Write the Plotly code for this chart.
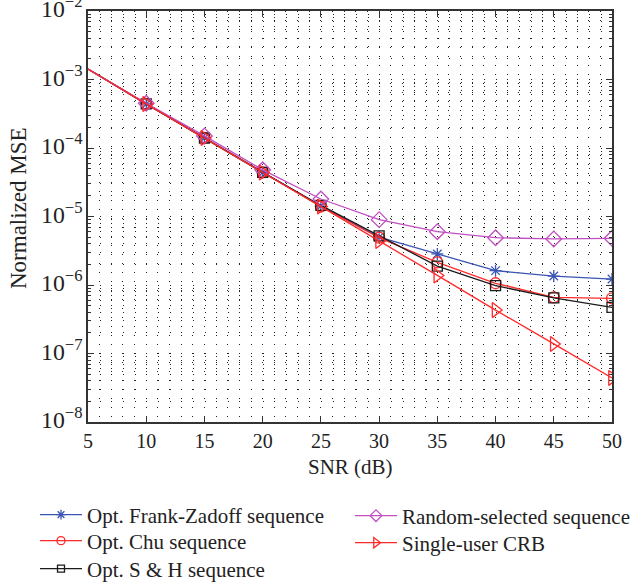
import plotly.graph_objects as go

snr = [5, 10, 15, 20, 25, 30, 35, 40, 45, 50]
fz = [1.42e-3, 4.4e-4, 1.4e-4, 4.4e-5, 1.42e-5, 5.0e-6, 2.84e-6, 1.62e-6, 1.35e-6, 1.22e-6]
chu = [1.42e-3, 4.4e-4, 1.4e-4, 4.4e-5, 1.4e-5, 4.9e-6, 2.14e-6, 1.06e-6, 6.6e-7, 6.4e-7]
sh = [1.42e-3, 4.4e-4, 1.4e-4, 4.4e-5, 1.45e-5, 5.2e-6, 1.89e-6, 9.8e-7, 6.5e-7, 4.7e-7]
rnd = [1.42e-3, 4.5e-4, 1.5e-4, 4.8e-5, 1.8e-5, 9.0e-6, 6.0e-6, 4.9e-6, 4.7e-6, 4.8e-6]
crb = [1.42e-3, 4.4e-4, 1.4e-4, 4.4e-5, 1.4e-5, 4.4e-6, 1.38e-6, 4.3e-7, 1.38e-7, 4.4e-8]

names = ["Opt. Frank-Zadoff sequence", "Opt. Chu sequence", "Opt. S & H sequence",
         "Random-selected sequence", "Single-user CRB"]
series = [fz, chu, sh, rnd, crb]
colors = ["#3a55b4", "#ff2a2a", "#1a1a1a", "#c04fc0", "#ff2a2a"]
symbols = ["asterisk-open", "circle-open", "square-open", "diamond-open", "triangle-right-open"]
sizes = [10, 11, 10, 12, 13]
leg_sizes = [8, 8, 7, 9, 9]
legend_ids = ["legend", "legend2", "legend3", "legend4", "legend5"]
# legend placement: left edge px and box centre px on the 635x588 page
leg_left = [35, 35, 35, 350, 350]
leg_mid = [515, 541, 569, 516, 543]

W, H = 635, 588
ML, MR, MT, MB = 88, 23, 11, 166
PW, PH = W - ML - MR, H - MT - MB
FONT = "Liberation Serif"
fig = go.Figure()
for name, ys, c, s, sz in zip(names, series, colors, symbols, sizes):
    fig.add_trace(go.Scatter(x=snr[:2], y=ys[:2], mode="lines", showlegend=False,
                             line=dict(color=c, width=1.3), hoverinfo="skip"))
    fig.add_trace(go.Scatter(x=snr[1:], y=ys[1:], mode="lines+markers", name=name,
                             showlegend=False,
                             line=dict(color=c, width=1.3),
                             marker=dict(symbol=s, size=sz, color=c,
                                         line=dict(color=c, width=1.3))))
for name, c, s, sz, lg in zip(names, colors, symbols, leg_sizes, legend_ids):
    fig.add_trace(go.Scatter(x=[None], y=[None], mode="lines+markers", name=name,
                             legend=lg, line=dict(color=c, width=1.3),
                             marker=dict(symbol=s, size=sz, color=c,
                                         line=dict(color=c, width=1.3))))

fig.update_xaxes(range=[5, 50], dtick=5, tick0=5, ticks="inside", ticklen=6,
                 automargin=False,
                 showline=True, linecolor="#333333", linewidth=1.5, mirror="ticks",
                 tickcolor="#333333", zeroline=False,
                 showgrid=True, gridcolor="#222222", gridwidth=1, griddash="1px,8px",
                 minor=dict(dtick=1, showgrid=True, gridcolor="#222222", gridwidth=1,
                            griddash="1px,8px"),
                 tickfont=dict(family=FONT, size=20, color="#222"))
fig.update_yaxes(type="log", range=[-8, -2], dtick=1, exponentformat="power",
                 ticks="inside", ticklen=6, tickcolor="#333333",
                 automargin=False, ticklabeloverflow="allow", ticklabelshift=-2,
                 showline=True, linecolor="#333333", linewidth=1.5, mirror="ticks",
                 zeroline=False,
                 showgrid=True, gridcolor="#222222", gridwidth=1, griddash="1px,10.65px",
                 minor=dict(ticks="inside", ticklen=3, tickcolor="#333333", showgrid=True,
                            gridcolor="#222222", gridwidth=1, griddash="1px,10.65px"),
                 tickfont=dict(family=FONT, size=19, color="#222"))

# axis titles as annotations (positions in paper fractions of the plot area)
fig.add_annotation(text="SNR (dB)", xref="paper", yref="paper",
                   x=0.5, y=(H - MB - 467) / PH, xanchor="center", yanchor="middle",
                   showarrow=False, font=dict(family=FONT, size=21, color="#222"))
fig.add_annotation(text="Normalized MSE", xref="paper", yref="paper",
                   x=(18 - ML) / PW, y=(H - MB - 208) / PH, textangle=-90,
                   xanchor="center", yanchor="middle",
                   showarrow=False, font=dict(family=FONT, size=23, color="#222"))

layout_legends = {}
for lg, lx, my in zip(legend_ids, leg_left, leg_mid):
    layout_legends[lg] = dict(orientation="v", bgcolor="rgba(0,0,0,0)",
                              x=(lx - ML) / PW, y=(H - MB - my) / PH,
                              xanchor="left", yanchor="middle",
                              font=dict(family=FONT, size=21, color="#222"),
                              itemwidth=42, tracegroupgap=0)

fig.update_layout(
    width=W, height=H,
    margin=dict(l=ML, r=MR, t=MT, b=MB, autoexpand=False),
    paper_bgcolor="white", plot_bgcolor="white",
    **layout_legends,
)
fig.write_html("out.html")
